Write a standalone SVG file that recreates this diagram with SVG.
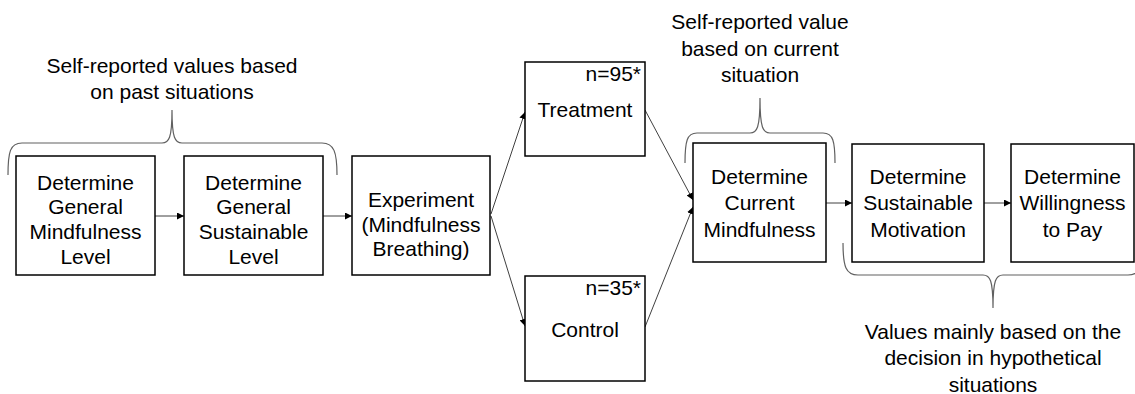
<svg xmlns="http://www.w3.org/2000/svg" width="1135" height="394" viewBox="0 0 1135 394">
<style>
.box{fill:#fff;stroke:#000;stroke-width:1.5}
.t{font-family:"Liberation Sans",Arial,sans-serif;font-size:21px;fill:#000;text-anchor:middle}
.n{font-family:"Liberation Sans",Arial,sans-serif;font-size:21px;fill:#000;text-anchor:end}
.c{fill:none;stroke:#404040;stroke-width:1}
.br{fill:none;stroke:#606060;stroke-width:1.2}
</style>
<defs>
<marker id="ah" viewBox="0 0 10 10" refX="10" refY="5" markerWidth="7" markerHeight="7" markerUnits="userSpaceOnUse" orient="auto">
<path d="M0,0 L10,5 L0,10 z" fill="#000"/>
</marker>
</defs>
<rect width="1135" height="394" fill="#fff"/>

<g id="braces">
<path class="br" d="M8,175 C8,152 10,143 22,143 L162,143 C169,143 172,138 172,110 C172,138 175,143 182,143 L322,143 C334,143 337,152 337,175"/>
<path class="br" d="M685,163 C685,141 687,133 697,133 L750,133 C757,133 760,128 760,98 C760,128 763,133 770,133 L823,133 C833,133 835,141 835,163"/>
<path class="br" d="M843,243 C843,267 846,275 858,275 L983,275 C990,275 993,280 993,308 C993,280 996,275 1003,275 L1128,275 C1140,275 1143,267 1143,243"/>
</g>

<g id="labels">
<text class="t" x="172" y="73">Self-reported values based</text>
<text class="t" x="172" y="99">on past situations</text>
<text class="t" x="760" y="29">Self-reported value</text>
<text class="t" x="760" y="56">based on current</text>
<text class="t" x="760" y="82">situation</text>
<text class="t" x="993" y="339">Values mainly based on the</text>
<text class="t" x="993" y="365">decision in hypothetical</text>
<text class="t" x="993" y="392">situations</text>
</g>

<g id="connectors">
<line class="c" x1="155" y1="216" x2="184" y2="216" marker-end="url(#ah)"/>
<line class="c" x1="323" y1="216" x2="352" y2="216" marker-end="url(#ah)"/>
<line class="c" x1="491" y1="214" x2="525" y2="112" marker-end="url(#ah)"/>
<line class="c" x1="491" y1="216" x2="525" y2="326" marker-end="url(#ah)"/>
<line class="c" x1="645" y1="110" x2="693" y2="200" marker-end="url(#ah)"/>
<line class="c" x1="645" y1="327" x2="693" y2="207" marker-end="url(#ah)"/>
<line class="c" x1="826" y1="203" x2="852" y2="203" marker-end="url(#ah)"/>
<line class="c" x1="984" y1="203" x2="1011" y2="203" marker-end="url(#ah)"/>
</g>

<g id="node-general-mindfulness">
<rect class="box" x="16" y="156" width="139" height="119"/>
<text class="t" x="85.5" y="190">Determine</text>
<text class="t" x="85.5" y="214">General</text>
<text class="t" x="85.5" y="239">Mindfulness</text>
<text class="t" x="85.5" y="264">Level</text>
</g>

<g id="node-general-sustainable">
<rect class="box" x="184" y="156" width="139" height="119"/>
<text class="t" x="253.5" y="190">Determine</text>
<text class="t" x="253.5" y="214">General</text>
<text class="t" x="253.5" y="239">Sustainable</text>
<text class="t" x="253.5" y="264">Level</text>
</g>

<g id="node-experiment">
<rect class="box" x="352" y="156" width="138" height="119"/>
<text class="t" x="421" y="207">Experiment</text>
<text class="t" x="421" y="232">(Mindfulness</text>
<text class="t" x="421" y="256">Breathing)</text>
</g>

<g id="node-treatment">
<rect class="box" x="525" y="62" width="120" height="94"/>
<text class="n" x="641" y="81">n=95*</text>
<text class="t" x="585" y="117">Treatment</text>
</g>

<g id="node-control">
<rect class="box" x="525" y="276" width="120" height="105"/>
<text class="n" x="641" y="295">n=35*</text>
<text class="t" x="585" y="337">Control</text>
</g>

<g id="node-current-mindfulness">
<rect class="box" x="693" y="143" width="133" height="119"/>
<text class="t" x="759.5" y="184">Determine</text>
<text class="t" x="759.5" y="210">Current</text>
<text class="t" x="759.5" y="237">Mindfulness</text>
</g>

<g id="node-sustainable-motivation">
<rect class="box" x="852" y="144" width="132" height="118"/>
<text class="t" x="918" y="184">Determine</text>
<text class="t" x="918" y="210">Sustainable</text>
<text class="t" x="918" y="237">Motivation</text>
</g>

<g id="node-willingness">
<rect class="box" x="1011" y="144" width="123" height="118"/>
<text class="t" x="1072.5" y="184">Determine</text>
<text class="t" x="1072.5" y="210">Willingness</text>
<text class="t" x="1072.5" y="237">to Pay</text>
</g>
</svg>
